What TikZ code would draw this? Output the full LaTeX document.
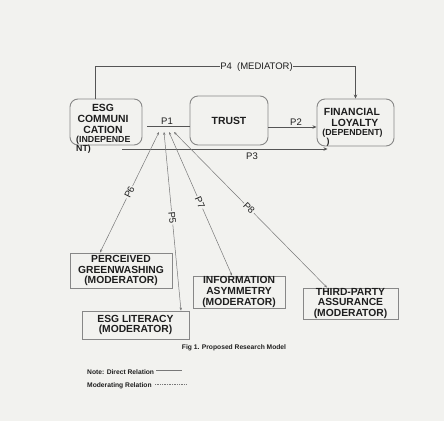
\documentclass[tikz,border=0pt]{standalone}
\usepackage{fontspec}
\setmainfont{Liberation Sans}
\usetikzlibrary{arrows.meta}
\definecolor{bg}{RGB}{242,242,239}
\definecolor{txt}{RGB}{30,30,30}
\definecolor{boxline}{RGB}{135,135,135}
\definecolor{dline}{RGB}{85,85,85}
\definecolor{mline}{RGB}{120,120,120}
\tikzset{
  rbox/.style={draw=boxline, line width=0.9pt, rounded corners=8pt, inner sep=0pt},
  mbox/.style={draw=boxline, line width=0.9pt, inner sep=0pt, align=center, text=txt,
    font=\fontsize{10.3}{10.8}\selectfont\bfseries},
  btxt/.style={inner sep=0pt, align=center, text=txt, font=\fontsize{10.4}{11}\selectfont\bfseries},
  stxt/.style={inner sep=0pt, align=left, text=txt, font=\fontsize{8.8}{9}\selectfont\bfseries},
  plab/.style={inner sep=1pt, text=txt, font=\fontsize{9.5}{10}\selectfont},
  direct/.style={draw=dline, line width=0.7pt},
  dirarrow/.style={direct, -{Stealth[length=4pt,width=3.5pt]}},
  modline/.style={draw=mline, line width=0.5pt,
    {Stealth[length=3pt,width=2.5pt]}-{Stealth[length=3pt,width=2.5pt]}},
  small/.style={inner sep=0pt, text=txt, font=\fontsize{6.7}{7}\selectfont\bfseries}
}
\begin{document}
\begin{tikzpicture}[x=1pt,y=-1pt]
\fill[bg] (0,0) rectangle (444,421);
\useasboundingbox (0,0) rectangle (444,421);

% main boxes
\node[rbox, minimum width=72pt, minimum height=46pt] (esg) at (106,122) {};
\node[btxt] (esgt) at (103,119) {ESG\\COMMUNI\\CATION};
\node[stxt, anchor=west] (esgn1) at (76,140.5) {(INDEPENDE};
\node[stxt, anchor=west] (esgn2) at (76,149.5) {NT)};

\node[rbox, minimum width=78pt, minimum height=49pt] (trust) at (229,120.5) {};
\node[btxt] (trustt) at (229,121) {TRUST};

\node[rbox, minimum width=77pt, minimum height=47pt] (fl) at (355.5,122.5) {};
\node[btxt] (flt) at (352,117.5) {FINANCIAL\\\ \ LOYALTY};
\node[stxt] (fld) at (352.5,133.5) {(DEPENDENT)};
\node[stxt] (fldp) at (328,142) {)};

% moderator boxes
\node[mbox, minimum width=102pt, minimum height=35pt] (pg) at (121,270.5) {PERCEIVED\\GREENWASHING\\(MODERATOR)};
\node[mbox, minimum width=107pt, minimum height=28pt] (el) at (135.5,325) {ESG LITERACY\\(MODERATOR)};
\node[mbox, minimum width=92pt, minimum height=32pt] (ia) at (239,292) {INFORMATION\\ASYMMETRY\\(MODERATOR)};
\node[mbox, minimum width=95pt, minimum height=31pt] (tpa) at (350.5,303.5) {THIRD-PARTY\\ASSURANCE\\(MODERATOR)};

% direct relations
\draw[dirarrow] ([xshift=-11pt]esg.north) -- ++(0,-32) -| (fl.north)
  node[pos=0.31, plab, fill=bg, inner xsep=0pt] (p4) {P4~ (MEDIATOR)};
\coordinate (p1s) at (147,126);
\draw[direct] (p1s) -- (p1s -| trust.west);
\node[plab] (p1) at (167,121) {P1};
\draw[dirarrow] ([yshift=-6.5pt]trust.east) -- ([yshift=-6.5pt]trust.east -| fl.west);
\node[plab] (p2) at (296,122) {P2};
\coordinate (p3s) at (122,149);
\draw[dirarrow] (p3s) -- ([xshift=11pt]p3s -| fl.west);
\node[plab] (p3) at (252,156.5) {P3};

% moderating relations
\coordinate (m6) at (159,132);
\coordinate (m5) at (164,132);
\coordinate (m7) at (169,132);
\coordinate (m8) at (174,132);
\draw[modline] ([xshift=-21pt]pg.north) -- node[pos=0.5, sloped, plab, fill=bg] (p6) {P6} (m6);
\draw[modline] ([xshift=45.5pt]el.north) -- node[pos=0.52, sloped, plab, fill=bg] (p5) {P5} (m5);
\draw[modline] ([xshift=-7pt]ia.north) -- node[pos=0.51, sloped, plab, fill=bg] (p7) {P7} (m7);
\draw[modline] ([xshift=-23.5pt]tpa.north) -- node[pos=0.51, sloped, plab, fill=bg] (p8) {P8} (m8);

% caption and legend
\node[small] (cap) at (234,348) {Fig 1. Proposed Research Model};
\node[small, anchor=west] (ld) at (87,372) {Note: Direct Relation};
\node[small, anchor=west] (lm) at (87,385.5) {Moderating Relation};
\draw[draw=mline, line width=0.7pt] (156,370.5) -- (182,370.5);
\draw[draw=mline, line width=0.7pt, densely dotted] (155,384.5) -- (186,384.5);
\end{tikzpicture}
\end{document}
